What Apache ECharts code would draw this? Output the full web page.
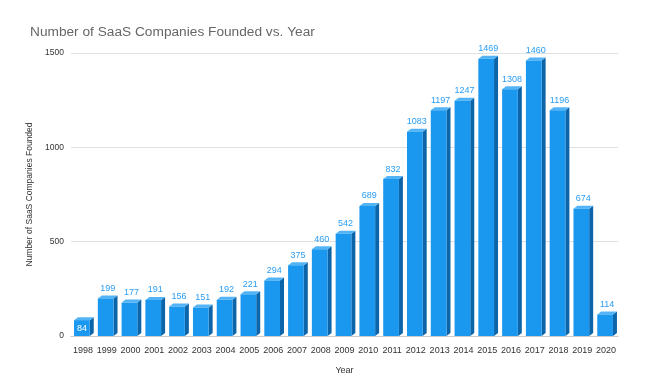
<!DOCTYPE html>
<html><head><meta charset="utf-8">
<script src="https://cdn.jsdelivr.net/npm/echarts@6/dist/echarts.min.js"></script>
<style>html,body{margin:0;padding:0;background:#fff}#c{width:650px;height:392px}</style>
</head><body><div id="c"></div>
<script>
const years = ['1998','1999','2000','2001','2002','2003','2004','2005','2006','2007','2008','2009','2010','2011','2012','2013','2014','2015','2016','2017','2018','2019','2020'];
const companies = [84,199,177,191,156,151,192,221,294,375,460,542,689,832,1083,1197,1247,1469,1308,1460,1196,674,114];
const insideLabelYears = ['1998'];
const yTicks = [0,500,1000,1500];

const chart = echarts.init(document.getElementById('c'));
const FRONT = '#1a97ee', SIDE = '#0b65a8', TOP = '#52b4f7';
chart.setOption({
  animation: false,
  title: { text: 'Number of SaaS Companies Founded vs. Year', left: 25, top: 20,
    textStyle: { fontFamily: 'Liberation Sans, Arial, sans-serif', fontSize: 13.7, fontWeight: 'normal', color: '#666' } },
  grid: { left: 71, right: 32, top: 53, bottom: 56 },
  xAxis: { type: 'category', data: years, name: 'Year', nameLocation: 'middle', nameGap: 30,
    nameTextStyle: { fontFamily: 'Liberation Sans, Arial, sans-serif', fontSize: 9, color: '#333' },
    axisLine: { show: true, lineStyle: { color: '#ccc' } }, axisTick: { show: false },
    axisLabel: { fontFamily: 'Liberation Sans, Arial, sans-serif', fontSize: 9, color: '#333', margin: 10, interval: 0 } },
  yAxis: { type: 'value', min: 0, max: 1500, interval: 500, name: 'Number of SaaS Companies Founded',
    nameLocation: 'middle', nameGap: 35, nameRotate: 90,
    nameTextStyle: { fontFamily: 'Liberation Sans, Arial, sans-serif', fontSize: 8.5, color: '#333' },
    axisLine: { show: false }, axisTick: { show: false },
    axisLabel: { fontFamily: 'Liberation Sans, Arial, sans-serif', fontSize: 8.5, color: '#333', margin: 7,
      formatter: v => yTicks.includes(v) ? String(v) : '' },
    splitLine: { lineStyle: { color: '#e0e0e0' } } },
  series: [{
    type: 'custom',
    data: companies.map((v, i) => [i, v]),
    encode: { x: 0, y: 1 },
    renderItem: function (params, api) {
      const i = api.value(0), v = api.value(1);
      const top = api.coord([i, v]);
      const base = api.coord([i, 0]);
      const band = api.size([1, 0])[0];
      const w = band * 0.66, d = 4, h = 3;
      const x0 = top[0] - w / 2 - 1, x1 = x0 + w;
      const yT = top[1], yB = base[1];
      const inside = insideLabelYears.includes(years[i]);
      return { type: 'group', children: [
        { type: 'polygon', shape: { points: [[x1, yT], [x1 + d, yT - h], [x1 + d, yB - h], [x1, yB]] }, style: { fill: SIDE } },
        { type: 'polygon', shape: { points: [[x0, yT], [x0 + d, yT - h], [x1 + d, yT - h], [x1, yT]] }, style: { fill: TOP } },
        { type: 'rect', shape: { x: x0, y: yT, width: w, height: yB - yT }, style: { fill: FRONT } },
        { type: 'text', style: { text: String(v), x: (x0 + x1) / 2 + (inside ? 0 : 2), y: inside ? (yT + yB) / 2 : yT - h - 7,
          align: 'center', verticalAlign: 'middle', fill: inside ? '#fff' : '#2a9df4',
          font: '9px "Liberation Sans", Arial, sans-serif' } }
      ] };
    }
  }]
});
</script></body></html>
